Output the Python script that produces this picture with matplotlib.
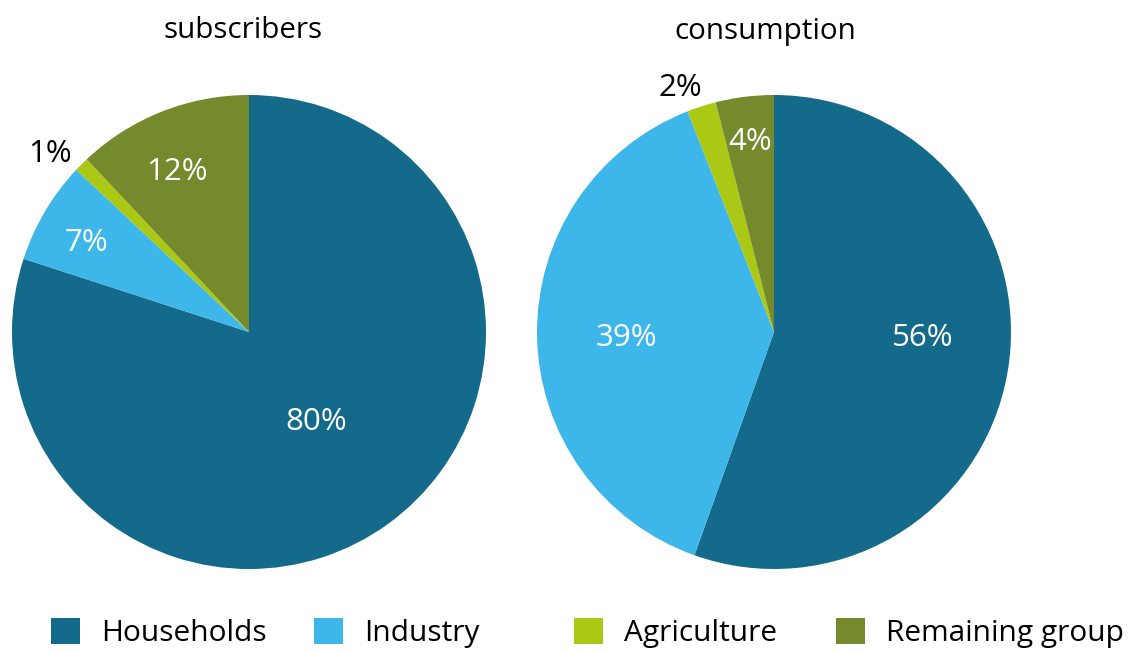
import numpy as np
import matplotlib
matplotlib.use("Agg")
import matplotlib.pyplot as plt

plt.rcParams["font.family"] = ["Open Sans", "DejaVu Sans"]

categories = ["Households", "Industry", "Agriculture", "Remaining group"]
subscribers = [80, 7, 1, 12]
consumption = [56, 39, 2, 4]
colors = ["#146a8b", "#3db7e9", "#aac814", "#758a2d"]

# label placement: radius (fraction of pie radius) and angular nudge in degrees
sub_label_r = [0.46, 0.79, 1.138, 0.755]
sub_label_da = [1.9, 1.1, 2.6, 2.1]
con_label_r = [0.629, 0.625, 1.118, 0.824]
con_label_da = [8.8, 0.1, 3.0, -0.2]

# left edge of each legend entry (pixels)
legend_x = [51, 314, 574, 836]


def draw_pie(ax, values, label_r, label_da):
    wedges, _ = ax.pie(values, colors=colors, startangle=90, counterclock=False,
                       radius=1.0, wedgeprops=dict(linewidth=0))
    for w, v, r, da in zip(wedges, values, label_r, label_da):
        mid = np.deg2rad((w.theta1 + w.theta2) / 2 + da)
        color = "white" if r < 1 else "black"
        ax.text(r * np.cos(mid), r * np.sin(mid), f"{v}%", ha="center",
                va="center_baseline", fontsize=22.5, color=color)
    ax.set_xlim(-1, 1)
    ax.set_ylim(-1, 1)
    ax.set_aspect("equal")
    ax.axis("off")
    return wedges


fig = plt.figure(figsize=(11.35, 6.53), dpi=100)
w, h = 474 / 1135, 474 / 653
ax1 = fig.add_axes([12 / 1135, 1 - 569 / 653, w, h])
ax2 = fig.add_axes([537 / 1135, 1 - 569 / 653, w, h])

wedges = draw_pie(ax1, subscribers, sub_label_r, sub_label_da)
draw_pie(ax2, consumption, con_label_r, con_label_da)

fig.text(243 / 1135, 1 - 31 / 653, "subscribers", ha="center", va="center", fontsize=21.3)
fig.text(765 / 1135, 1 - 31 / 653, "consumption", ha="center", va="center", fontsize=21.3)

for wedge, name, x in zip(wedges, categories, legend_x):
    fig.legend([wedge], [name], loc="center left", bbox_to_anchor=(x / 1135, 1 - 633 / 653),
               frameon=False, fontsize=21.5, handlelength=0.97, handleheight=0.97,
               handletextpad=0.7, borderpad=0, borderaxespad=0)

fig.savefig("out.png", dpi=100)
